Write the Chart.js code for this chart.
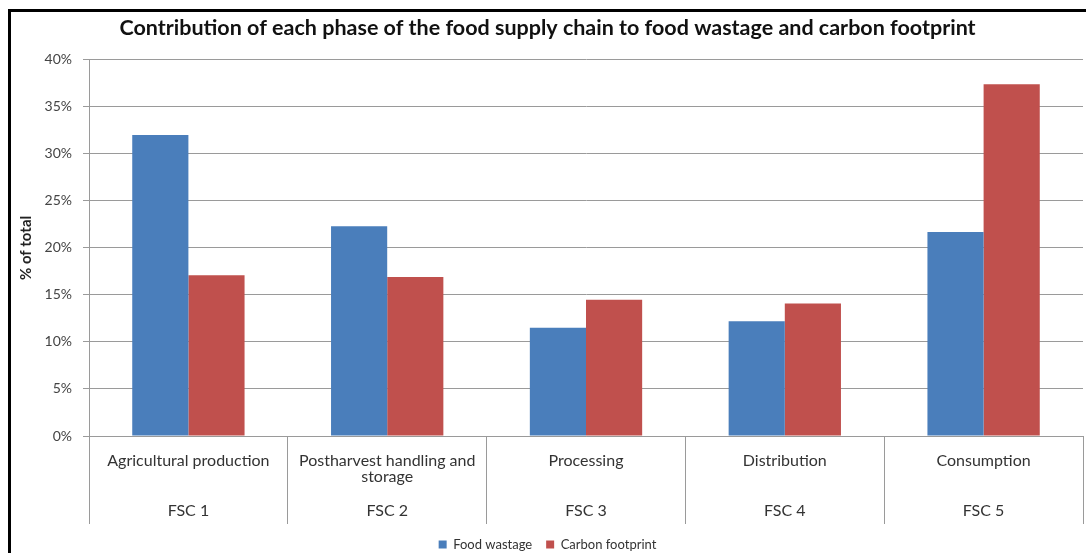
<!DOCTYPE html>
<html>
<head>
<meta charset="utf-8">
<script src="https://cdn.jsdelivr.net/npm/chart.js@4.4.0/dist/chart.umd.min.js"></script>
<style>
  body { margin: 0; background: #fff; }
  #wrap { position: relative; width: 1086px; height: 553px; overflow: hidden; }
  #frame { position: absolute; left: 8px; top: 9px; width: 1100px; height: 560px; border: 3px solid #000; }
  #chart { position: absolute; left: 0; top: 0; }
</style>
</head>
<body>
<div id="wrap">
  <div id="frame"></div>
  <canvas id="chart" width="1086" height="553"></canvas>
</div>
<script>
const categories = ["Agricultural production", "Postharvest handling and storage", "Processing", "Distribution", "Consumption"];
const phaseCodes = ["FSC 1", "FSC 2", "FSC 3", "FSC 4", "FSC 5"];
const foodWastage = [32.0, 22.3, 11.5, 12.2, 21.7];
const carbonFootprint = [17.1, 16.9, 14.5, 14.1, 37.4];
const yTicks = [0, 5, 10, 15, 20, 25, 30, 35, 40];

const FONT = "Lato";
const GRID = "#9a9a9a";

// wrap long category names like excel does
function wrap(text, maxWidth) {
    const c = document.createElement("canvas").getContext("2d");
    c.font = "16px " + FONT;
    const words = text.split(" ");
    const lines = [];
    let cur = "";
    words.forEach(w => {
        const test = cur ? cur + " " + w : w;
        if (c.measureText(test).width > maxWidth && cur) {
            lines.push(cur);
            cur = w;
        } else {
            cur = test;
        }
    });
    lines.push(cur);
    return lines;
}

const labels = categories.map((name, i) => {
    const lines = wrap(name, 190);
    while (lines.length < 3) lines.push("");
    lines.push(phaseCodes[i]);
    return lines;
});

const ctx = document.getElementById("chart").getContext("2d");

new Chart(ctx, {
    type: "bar",
    data: {
        labels: labels,
        datasets: [
            { label: "Food wastage", data: foodWastage, backgroundColor: "#4a7ebb" },
            { label: "Carbon footprint", data: carbonFootprint, backgroundColor: "#c0504d" }
        ]
    },
    options: {
        responsive: false,
        animation: false,
        layout: { padding: { top: 10, left: 12, right: 3, bottom: -8 } },
        datasets: { bar: { categoryPercentage: 0.565, barPercentage: 1.0 } },
        plugins: {
            title: {
                display: true,
                text: "Contribution of each phase of the food supply chain to food wastage and carbon footprint",
                color: "#111",
                font: { family: FONT, size: 21.5, weight: "bold" },
                padding: { top: 5, bottom: 19 }
            },
            legend: {
                position: "bottom",
                labels: {
                    color: "#333",
                    font: { family: FONT, size: 13 },
                    boxWidth: 8,
                    boxHeight: 8,
                    padding: 14
                }
            },
            tooltip: { enabled: false }
        },
        scales: {
            x: {
                grid: { display: true, drawOnChartArea: false, drawTicks: true, tickLength: 88, color: GRID },
                border: { display: true, color: GRID },
                ticks: {
                    color: "#333",
                    font: { family: FONT, size: 16, lineHeight: 1.05 },
                    padding: -72,
                    maxRotation: 0,
                    autoSkip: false
                },
                afterFit: scale => { scale.height = 88; }
            },
            y: {
                min: 0,
                max: 40,
                afterBuildTicks: scale => { scale.ticks = yTicks.map(v => ({ value: v })); },
                grid: { color: GRID, tickLength: 6 },
                border: { display: true, color: GRID },
                ticks: {
                    color: "#444",
                    font: { family: FONT, size: 14 },
                    padding: 11,
                    callback: v => v + "%"
                },
                title: {
                    display: true,
                    text: "% of total",
                    color: "#222",
                    font: { family: FONT, size: 15, weight: "bold" },
                    padding: { top: 5, bottom: 0 }
                },
                afterFit: scale => { scale.width = 77; }
            }
        }
    }
});
</script>
</body>
</html>
